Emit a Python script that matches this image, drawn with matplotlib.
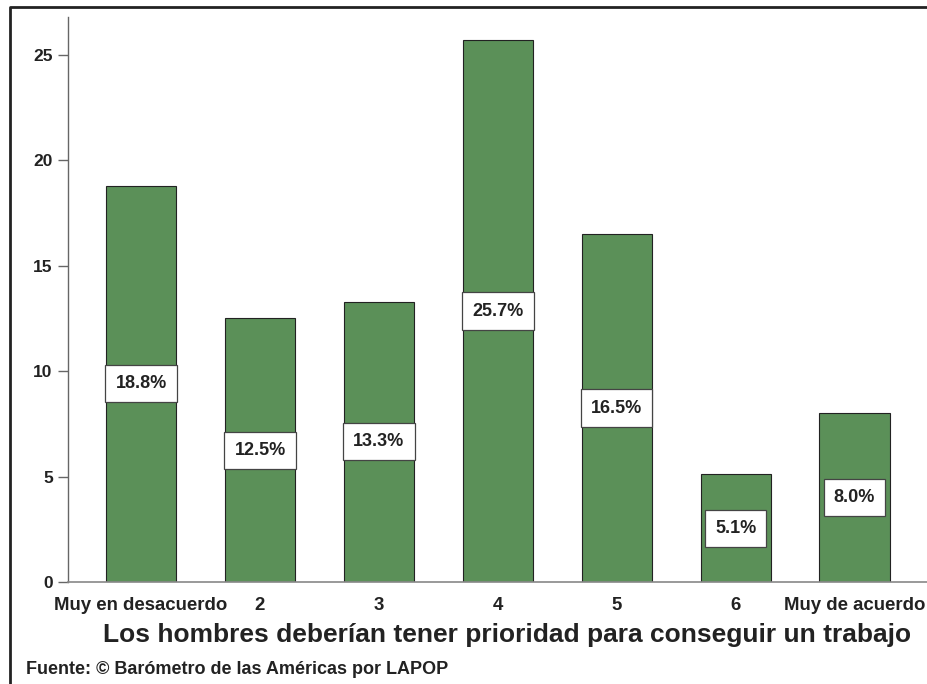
import numpy as np
import matplotlib.pyplot as plt
from matplotlib.lines import Line2D

# Datos
categorias = ["Muy en desacuerdo", "2", "3", "4", "5", "6", "Muy de acuerdo"]
porcentajes = [18.8, 12.5, 13.3, 25.7, 16.5, 5.1, 8.0]
titulo_x = "Los hombres deberían tener prioridad para conseguir un trabajo"
fuente = "Fuente: © Barómetro de las Américas por LAPOP"

plt.rcParams['font.family'] = ['Liberation Sans', 'DejaVu Sans']
plt.rcParams['font.weight'] = 'bold'

fig = plt.figure(figsize=(9.27, 6.84), dpi=100)
ax = fig.add_axes([68/927, 1 - 582/684, 1 - 68/927, (582 - 17)/684])

x = np.arange(len(categorias))
ax.bar(x, porcentajes, width=0.59, color="#5b9058", edgecolor="#222222", linewidth=0.8, zorder=2)

# etiquetas dentro de las barras
for xi, v in zip(x, porcentajes):
    ax.text(xi, v/2, "%.1f%%" % v, ha="center", va="center", fontsize=13, fontweight="bold",
            color="#222222", zorder=3,
            bbox=dict(boxstyle="square,pad=0.56", facecolor="white", edgecolor="#444444", linewidth=0.9))

ax.set_xlim(-0.615, 6.61)
ax.set_ylim(0, 26.8)
ax.set_yticks([0, 5, 10, 15, 20, 25])
ax.set_xticks(x)
ax.set_xticklabels(categorias)
ax.tick_params(axis="x", length=0, pad=10.5, labelsize=13.4, colors="#222222")
ax.tick_params(axis="y", length=7, width=1, color="#666666", labelsize=12.5, labelcolor="#222222", pad=4)
for lab in ax.get_xticklabels() + ax.get_yticklabels():
    lab.set_fontweight("bold")

for s in ["top", "right"]:
    ax.spines[s].set_visible(False)
ax.spines["left"].set_color("#666666")
ax.spines["bottom"].set_color("#888888")
ax.spines["left"].set_linewidth(1)
ax.spines["bottom"].set_linewidth(1.2)

ax.set_xlabel(titulo_x, fontsize=19, fontweight="bold", color="#222222", labelpad=7, x=0.511)

fig.text(26/927, 1 - 670/684, fuente, fontsize=13, fontweight="bold", color="#222222", va="center")

# marco de la figura (izquierda y arriba)
fig.add_artist(Line2D([9.5/927, 9.5/927, 1], [0, 1 - 7/684, 1 - 7/684], transform=fig.transFigure,
                      color="#222222", linewidth=2))

fig.savefig("out.png", dpi=100)
